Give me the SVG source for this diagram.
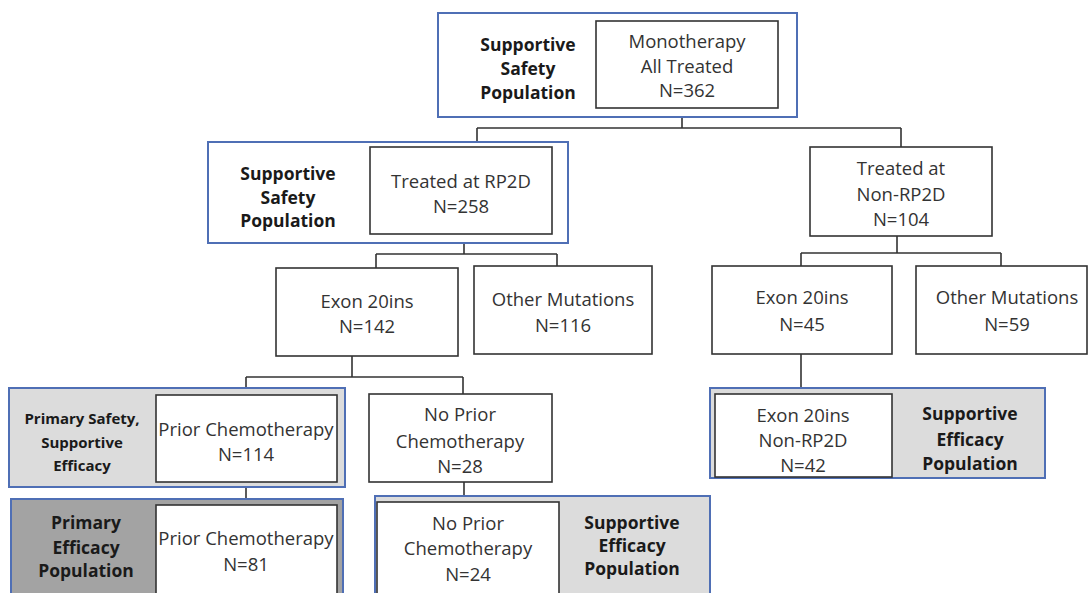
<svg xmlns="http://www.w3.org/2000/svg" width="1088" height="593" viewBox="0 0 1088 593">
<style>
.frame{stroke:#4f6fb5;stroke-width:2}
.fw{fill:#ffffff}
.fl{fill:#dcdcdc}
.fd{fill:#a3a3a3}
.box{fill:#ffffff;stroke:#333333;stroke-width:1.6}
.t{font-family:"Open Sans","Liberation Sans",sans-serif;font-size:18.5px;fill:#333333;text-anchor:middle;dominant-baseline:central}
.b{font-family:"Open Sans","Liberation Sans",sans-serif;font-size:17.5px;font-weight:bold;fill:#1a1a1a;text-anchor:middle;dominant-baseline:central}
.bs{font-size:15px}
.c{stroke:#333333;stroke-width:1.6;fill:none}
</style>
<g id="connectors">
<path class="c" d="M682,108V128M477,128H901M477,128V147M901,128V147"/>
<path class="c" d="M464,234V254M376,254H557M376,254V268M557,254V266"/>
<path class="c" d="M352,356V377M246,377H463M246,377V395M463,377V394"/>
<path class="c" d="M897,236V253M801,253H1001M801,253V266M1001,253V266"/>
<path class="c" d="M801,354V394"/>
<path class="c" d="M246,482V505"/>
<path class="c" d="M464,482V502"/>
</g>
<g id="n-all">
<rect class="frame fw" x="438" y="13" width="359" height="104"/>
<text class="b"><tspan x="528" y="44">Supportive</tspan><tspan x="528" y="68">Safety</tspan><tspan x="528" y="92">Population</tspan></text>
<rect class="box" x="596" y="21" width="182" height="87"/>
<text class="t"><tspan x="687" y="40">Monotherapy</tspan><tspan x="687" y="65">All Treated</tspan><tspan x="687" y="89">N=362</tspan></text>
</g>
<g id="n-rp2d">
<rect class="frame fw" x="208" y="142" width="360" height="101"/>
<text class="b"><tspan x="288" y="173">Supportive</tspan><tspan x="288" y="197">Safety</tspan><tspan x="288" y="220">Population</tspan></text>
<rect class="box" x="370" y="147" width="182" height="87"/>
<text class="t"><tspan x="461" y="180">Treated at RP2D</tspan><tspan x="461" y="205">N=258</tspan></text>
</g>
<g id="n-nonrp2d">
<rect class="box" x="810" y="147" width="182" height="89"/>
<text class="t"><tspan x="901" y="167">Treated at</tspan><tspan x="901" y="193">Non-RP2D</tspan><tspan x="901" y="218">N=104</tspan></text>
</g>
<g id="n-exon142">
<rect class="box" x="276" y="268" width="182" height="88"/>
<text class="t"><tspan x="367" y="300">Exon 20ins</tspan><tspan x="367" y="325">N=142</tspan></text>
</g>
<g id="n-other116">
<rect class="box" x="474" y="266" width="178" height="88"/>
<text class="t"><tspan x="563" y="298">Other Mutations</tspan><tspan x="563" y="324">N=116</tspan></text>
</g>
<g id="n-exon45">
<rect class="box" x="712" y="266" width="180" height="88"/>
<text class="t"><tspan x="802" y="296">Exon 20ins</tspan><tspan x="802" y="323">N=45</tspan></text>
</g>
<g id="n-other59">
<rect class="box" x="916" y="266" width="171" height="88"/>
<text class="t"><tspan x="1007" y="296">Other Mutations</tspan><tspan x="1007" y="323">N=59</tspan></text>
</g>
<g id="n-prior114">
<rect class="frame fl" x="9" y="388" width="336" height="99"/>
<text class="b bs"><tspan x="82" y="418">Primary Safety,</tspan><tspan x="82" y="442">Supportive</tspan><tspan x="82" y="465">Efficacy</tspan></text>
<rect class="box" x="156" y="395" width="181" height="87"/>
<text class="t"><tspan x="246" y="428">Prior Chemotherapy</tspan><tspan x="246" y="453">N=114</tspan></text>
</g>
<g id="n-noprior28">
<rect class="box" x="369" y="394" width="183" height="88"/>
<text class="t"><tspan x="460" y="413">No Prior</tspan><tspan x="460" y="440">Chemotherapy</tspan><tspan x="460" y="465">N=28</tspan></text>
</g>
<g id="n-prior81">
<rect class="frame fd" x="11" y="499" width="332" height="104"/>
<text class="b"><tspan x="86" y="522">Primary</tspan><tspan x="86" y="547">Efficacy</tspan><tspan x="86" y="570">Population</tspan></text>
<rect class="box" x="156" y="505" width="181" height="98"/>
<text class="t"><tspan x="246" y="537">Prior Chemotherapy</tspan><tspan x="246" y="563">N=81</tspan></text>
</g>
<g id="n-noprior24">
<rect class="frame fl" x="375" y="496" width="335" height="104"/>
<rect class="box" x="377" y="502" width="182" height="98"/>
<text class="t"><tspan x="468" y="522">No Prior</tspan><tspan x="468" y="547">Chemotherapy</tspan><tspan x="468" y="573">N=24</tspan></text>
<text class="b"><tspan x="632" y="522">Supportive</tspan><tspan x="632" y="545">Efficacy</tspan><tspan x="632" y="568">Population</tspan></text>
</g>
<g id="n-exon42">
<rect class="frame fl" x="710" y="388" width="335" height="90"/>
<rect class="box" x="715" y="394" width="177" height="83"/>
<text class="t"><tspan x="803" y="414">Exon 20ins</tspan><tspan x="803" y="439">Non-RP2D</tspan><tspan x="803" y="464">N=42</tspan></text>
<text class="b"><tspan x="970" y="413">Supportive</tspan><tspan x="970" y="439">Efficacy</tspan><tspan x="970" y="463">Population</tspan></text>
</g>
</svg>
